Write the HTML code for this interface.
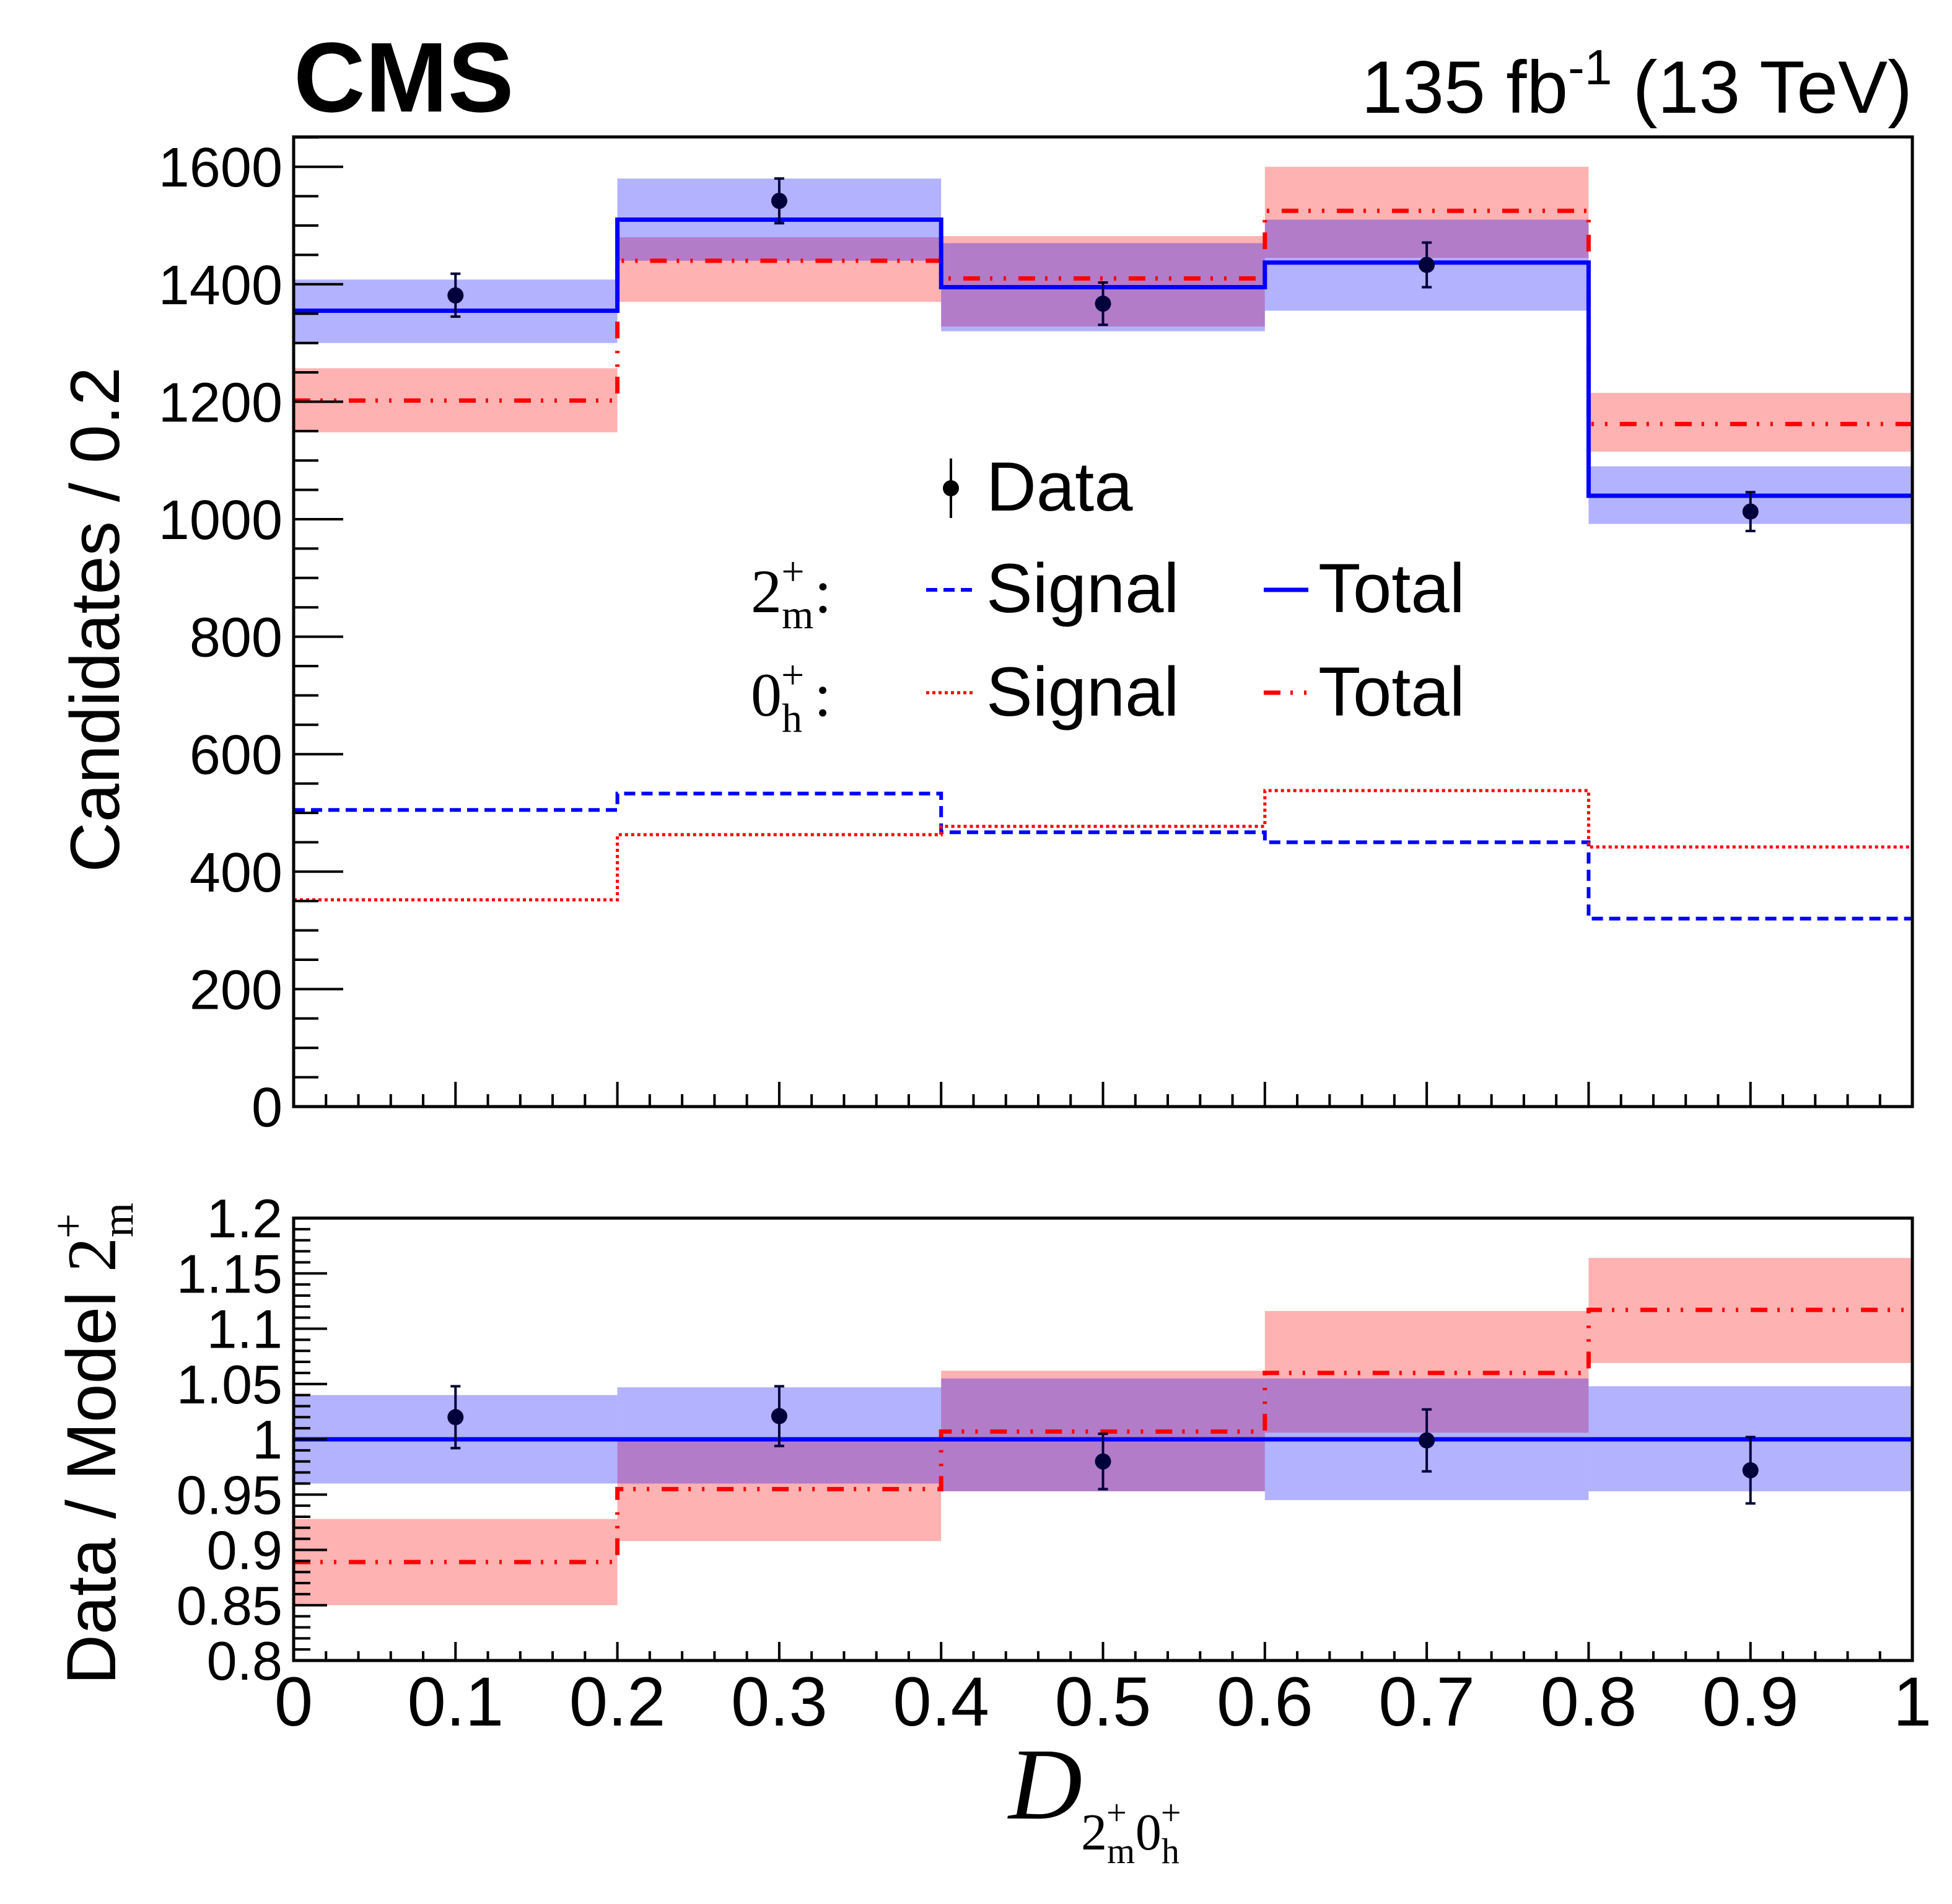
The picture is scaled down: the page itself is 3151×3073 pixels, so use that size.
<!DOCTYPE html>
<html><head><meta charset="utf-8"><style>
html,body{margin:0;padding:0;background:#fff;}
svg{display:block;}
</style></head><body>
<svg id="c" width="3151" height="3073" viewBox="0 0 3151 3073" xmlns="http://www.w3.org/2000/svg">
<g id="bands"></g>
<g id="lines"></g>
<g id="pts"></g>
<g id="axes"></g>
<text x="474" y="180" font-family="Liberation Sans, sans-serif" font-weight="bold" font-size="160">CMS</text>
<text x="3087" y="182" text-anchor="end" font-family="Liberation Sans, sans-serif" font-size="120">135 fb<tspan dy="-46" font-size="80">-1</tspan><tspan dy="46"> (13 TeV)</tspan></text>
<text transform="translate(192,1000) rotate(-90)" text-anchor="middle" font-family="Liberation Sans, sans-serif" font-size="112">Candidates / 0.2</text>
<text transform="translate(186,2330) rotate(-90)" text-anchor="middle" font-family="Liberation Sans, sans-serif" font-size="112">Data / Model <tspan font-family="Liberation Serif, serif">2</tspan><tspan font-family="Liberation Serif, serif" font-size="72" dy="28">m</tspan><tspan font-family="Liberation Serif, serif" font-size="72" dx="-58" dy="-80">+</tspan></text>
<text x="1628" y="2935" font-family="Liberation Serif, serif" font-style="italic" font-size="165">D</text>
<text x="1745" y="2985" font-family="Liberation Serif, serif" font-size="84">2<tspan font-size="58" dy="22">m</tspan><tspan font-size="58" dx="-46" dy="-62">+</tspan><tspan dx="14" dy="40">0</tspan><tspan font-size="58" dy="22">h</tspan><tspan font-size="58" dx="-30" dy="-62">+</tspan></text>
<g id="legend">
<line x1="1535" y1="740" x2="1535" y2="836" stroke="#000" stroke-width="4"/>
<circle cx="1535" cy="788" r="13" fill="#000"/>
<text x="1592" y="824" font-family="Liberation Sans, sans-serif" font-size="112">Data</text>
<text x="1212" y="988" font-family="Liberation Serif, serif" font-size="100">2<tspan font-size="66" dy="26">m</tspan><tspan font-size="66" dx="-52" dy="-70">+</tspan><tspan font-size="100" dx="16" dy="44">:</tspan></text>
<line x1="1495" y1="952" x2="1575" y2="952" stroke="#00f" stroke-width="6" stroke-dasharray="18 10"/>
<text x="1592" y="988" font-family="Liberation Sans, sans-serif" font-size="112">Signal</text>
<line x1="2040" y1="952" x2="2112" y2="952" stroke="#00f" stroke-width="7"/>
<text x="2128" y="988" font-family="Liberation Sans, sans-serif" font-size="112">Total</text>
<text x="1212" y="1155" font-family="Liberation Serif, serif" font-size="100">0<tspan font-size="66" dy="26">h</tspan><tspan font-size="66" dx="-34" dy="-70">+</tspan><tspan font-size="100" dx="16" dy="44">:</tspan></text>
<line x1="1495" y1="1118" x2="1575" y2="1118" stroke="#f00" stroke-width="5" stroke-dasharray="5 5"/>
<text x="1592" y="1155" font-family="Liberation Sans, sans-serif" font-size="112">Signal</text>
<line x1="2040" y1="1118" x2="2112" y2="1118" stroke="#f00" stroke-width="7" stroke-dasharray="27 16 4 18 4 20"/>
<text x="2128" y="1155" font-family="Liberation Sans, sans-serif" font-size="112">Total</text>
</g>
</svg>
<script>
const binEdges=[0,0.2,0.4,0.6,0.8,1];
const binCenters=[0.1,0.3,0.5,0.7,0.9];
// upper panel
const total2m=[1355,1510,1395,1437,1040];
const band2mLo=[1300,1440,1320,1355,992];
const band2mHi=[1408,1580,1470,1510,1090];
const total0h=[1202,1440,1410,1525,1162];
const band0hLo=[1148,1370,1328,1445,1115];
const band0hHi=[1257,1480,1482,1600,1215];
const signal2m=[505,533,467,450,320];
const signal0h=[352,463,477,538,442];
const dataVal=[1381,1542,1367,1433,1013];
const dataErrLo=[36,38,36,38,33];
const dataErrHi=[37,38,36,38,33];
// lower panel (ratio)
const ratio2m=[1,1,1,1,1];
const rband2mLo=[0.960,0.960,0.953,0.945,0.953];
const rband2mHi=[1.040,1.047,1.055,1.055,1.048];
const ratio0h=[0.889,0.955,1.007,1.060,1.117];
const rband0hLo=[0.850,0.908,0.953,1.006,1.069];
const rband0hHi=[0.928,1.000,1.062,1.116,1.164];
const rdata=[1.020,1.021,0.980,0.999,0.972];
const rdataErr=[0.028,0.027,0.025,0.028,0.030];
// ticks
const upperYTicks=[0,200,400,600,800,1000,1200,1400,1600];
const lowerYTicks=[0.8,0.85,0.9,0.95,1,1.05,1.1,1.15,1.2];
const lowerYLabels=["0.8","0.85","0.9","0.95","1","1.05","1.1","1.15","1.2"];
const xTicks=[0,0.1,0.2,0.3,0.4,0.5,0.6,0.7,0.8,0.9,1];
const xLabels=["0","0.1","0.2","0.3","0.4","0.5","0.6","0.7","0.8","0.9","1"];

const NS="http://www.w3.org/2000/svg";
const X0=474,X1=3087,UT=221,UB=1786,LT=1966,LB=2680;
function sx(v){return X0+v*(X1-X0);}
function syU(v){return UB-v*(UB-269.2)/1600;}
function syL(v){return LB-(v-0.8)*(LB-LT)/0.4;}
function mk(tag,attrs,parent){const e=document.createElementNS(NS,tag);for(const k in attrs)e.setAttribute(k,attrs[k]);document.getElementById(parent).appendChild(e);return e;}
function stepPath(vals,sy){let d="M"+sx(binEdges[0])+","+sy(vals[0]);for(let i=0;i<vals.length;i++){if(i>0)d+=" V"+sy(vals[i]);d+=" H"+sx(binEdges[i+1]);}return d;}

function bands(lo,hi,sy,color,name){
  for(let i=0;i<lo.length;i++){
    const r=mk("rect",{x:sx(binEdges[i]),y:sy(hi[i]),width:sx(binEdges[i+1])-sx(binEdges[i]),height:sy(lo[i])-sy(hi[i]),fill:color,"fill-opacity":0.3},"bands");
    
    
  }
}
bands(band0hLo,band0hHi,syU,"#f00","upper-band-0h");
bands(band2mLo,band2mHi,syU,"#00f","upper-band-2m");
bands(rband0hLo,rband0hHi,syL,"#f00","lower-band-0h");
bands(rband2mLo,rband2mHi,syL,"#00f","lower-band-2m");

function line(vals,sy,color,w,dash,name){
  const p=mk("path",{d:stepPath(vals,sy),fill:"none",stroke:color,"stroke-width":w},"lines");
  if(dash)p.setAttribute("stroke-dasharray",dash);
  
  
}
line(signal2m,syU,"#00f",6,"18 10","signal-2m-line");
line(signal0h,syU,"#f00",5,"5 5","signal-0h-line");
line(total0h,syU,"#f00",7,"27 16 4 18 4 20","total-0h-line");
line(total2m,syU,"#00f",7,null,"total-2m-line");
line(ratio0h,syL,"#f00",7,"27 16 4 18 4 20","ratio-0h-line");
line(ratio2m,syL,"#00f",7,null,"ratio-2m-line");

function points(vals,lo,hi,sy,name){
  for(let i=0;i<vals.length;i++){
    const x=sx(binCenters[i]);
    const y1=sy(vals[i]+hi[i]),y2=sy(vals[i]-lo[i]);
    const g=mk("g",{},"pts");
    
    
    const l=document.createElementNS(NS,"path");
    l.setAttribute("d","M"+x+","+y1+" V"+y2+" M"+(x-8)+","+y1+" H"+(x+8)+" M"+(x-8)+","+y2+" H"+(x+8));
    l.setAttribute("stroke","#00003a");l.setAttribute("stroke-width","4");l.setAttribute("fill","none");
    g.appendChild(l);
    const c=document.createElementNS(NS,"circle");
    c.setAttribute("cx",x);c.setAttribute("cy",sy(vals[i]));c.setAttribute("r","13");c.setAttribute("fill","#00003a");
    g.appendChild(c);
  }
}
points(dataVal,dataErrLo,dataErrHi,syU,"data-point");
points(rdata,rdataErr,rdataErr,syL,"ratio-point");

for(const [t,b,n] of [[UT,UB,"upper-frame"],[LT,LB,"lower-frame"]]){
  const r=mk("rect",{x:X0,y:t,width:X1-X0,height:b-t,fill:"none",stroke:"#000","stroke-width":5},"axes");
  
  
}
let td="";
for(let v=0;v<=1650;v+=50){const y=syU(v);if(y<UT)break;td+="M"+X0+","+y+" h"+(v%200===0?80:40)+" ";}
for(let k=80;k<=120;k++){const y=syL(k/100);td+="M"+X0+","+y+" h"+(k%5===0?54:27)+" ";}
for(let k=0;k<=50;k++){const x=sx(k/50);const maj=k%5===0;td+="M"+x+","+UB+" v"+(maj?-40:-20)+" ";td+="M"+x+","+LB+" v"+(maj?-30:-15)+" ";}
const tp=mk("path",{d:td,stroke:"#000","stroke-width":4,fill:"none"},"axes");



for(let i=0;i<upperYTicks.length;i++){
  const t=mk("text",{x:X0-18,y:syU(upperYTicks[i])+32,"text-anchor":"end","font-family":"Liberation Sans, sans-serif","font-size":90},"axes");
  t.textContent=String(upperYTicks[i]);
  
  
}
for(let i=0;i<lowerYTicks.length;i++){
  const t=mk("text",{x:X0-18,y:syL(lowerYTicks[i])+31,"text-anchor":"end","font-family":"Liberation Sans, sans-serif","font-size":88},"axes");
  t.textContent=lowerYLabels[i];
  
  
}
for(let i=0;i<xTicks.length;i++){
  const t=mk("text",{x:sx(xTicks[i]),y:2785,"text-anchor":"middle","font-family":"Liberation Sans, sans-serif","font-size":112},"axes");
  t.textContent=xLabels[i];
  
  
}
</script>
</body></html>
